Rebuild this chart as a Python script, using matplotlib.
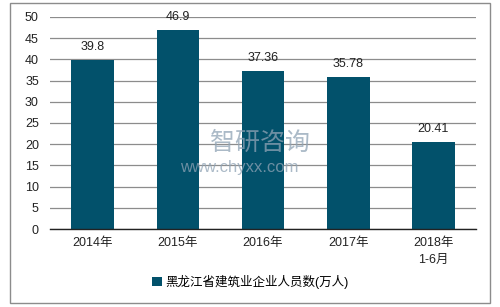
import matplotlib.pyplot as plt
from matplotlib.patches import Rectangle

plt.rcParams['font.family'] = ['Liberation Sans', 'Noto Sans CJK SC', 'DejaVu Sans']

categories = ["2014年", "2015年", "2016年", "2017年", "2018年\n1-6月"]
values = [39.8, 46.9, 37.36, 35.78, 20.41]
value_labels = ["39.8", "46.9", "37.36", "35.78", "20.41"]
series_name = "黑龙江省建筑业企业人员数(万人)"
bar_color = "#02516B"

fig = plt.figure(figsize=(5, 3.07), dpi=100)
ax = fig.add_axes([0.1, 0.254, 0.852, 0.691])

x = list(range(len(categories)))
bars = ax.bar(x, values, width=0.5, color=bar_color, label=series_name, zorder=3)
for xi, v, lab in zip(x, values, value_labels):
    ax.annotate(lab, (xi, v), xytext=(0, 5), textcoords="offset points",
                ha="center", va="bottom", fontsize=9, color="#222222", zorder=4)

ax.set_xlim(-0.5, len(categories) - 0.5)
ax.set_ylim(0, 50)
ax.set_yticks(range(0, 51, 5))
ax.set_xticks(x)
ax.set_xticklabels(categories, fontsize=9, color="#222222", linespacing=1.5)
ax.tick_params(axis="y", labelsize=9, colors="#222222", length=0, pad=8)
ax.tick_params(axis="x", length=0, pad=6)
ax.grid(axis="y", color="#8c8c8c", linewidth=0.9, zorder=0)
for s in ["top", "right", "left"]:
    ax.spines[s].set_visible(False)
ax.spines["bottom"].set_color("#222222")
ax.spines["bottom"].set_linewidth(1.0)
ax.spines["bottom"].set_zorder(5)

# watermark
fig.text(0.42, 0.535, "智研咨询", fontsize=18, color="#8fa3b5", alpha=0.75,
         ha="left", va="center", zorder=10)
fig.text(0.36, 0.455, "www.chyxx.com", fontsize=12, color="#8fa3b5", alpha=0.75,
         ha="left", va="center", zorder=10)

leg = fig.legend(handles=[bars], labels=[series_name], loc="center",
                 bbox_to_anchor=(0.5, 0.082), frameon=False, fontsize=9,
                 handlelength=0.8, handleheight=0.8, handletextpad=0.3)

fig.patches.append(Rectangle((0.02, 0.013), 0.96, 0.977, transform=fig.transFigure,
                             fill=False, edgecolor="#8c8c8c", linewidth=1.0))

fig.savefig("out.png", dpi=100)
